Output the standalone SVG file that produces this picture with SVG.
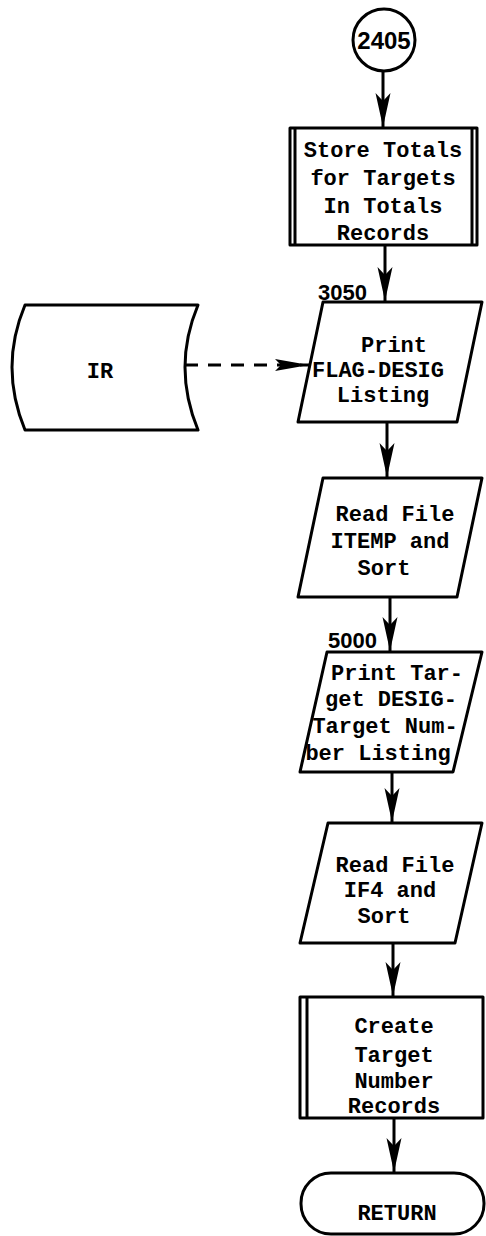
<svg xmlns="http://www.w3.org/2000/svg" width="486" height="1236" viewBox="0 0 486 1236">
<style>
.s{fill:#fff;stroke:#000;stroke-width:3;stroke-linejoin:round}
.t{font-family:"Liberation Mono","Courier New",monospace;font-weight:bold;font-size:22px;text-anchor:middle;fill:#000}
.n{font-family:"Liberation Sans",Arial,sans-serif;font-weight:bold;font-size:22px;fill:#000}
.c{fill:none;stroke:#000;stroke-width:3}
.d{fill:none;stroke:#000;stroke-width:3;stroke-dasharray:13 10}
</style>
<defs>
<marker id="ah" markerUnits="userSpaceOnUse" viewBox="0 -8 36 16" markerWidth="36" markerHeight="16" refX="34" refY="0" orient="auto">
<path d="M0,-7.5 L34,0 L0,7.5 L8,0 Z" fill="#000"/>
</marker>
<marker id="ah2" markerUnits="userSpaceOnUse" viewBox="0 -8 36 16" markerWidth="36" markerHeight="16" refX="34" refY="0" orient="auto">
<path d="M0,-6 L34,0 L0,6 L6,0 Z" fill="#000"/>
</marker>
</defs>
<g id="connectors">
<line class="c" x1="383" y1="71" x2="383" y2="127" marker-end="url(#ah)"/>
<line class="c" x1="385" y1="245" x2="385" y2="301" marker-end="url(#ah)"/>
<line class="c" x1="387" y1="422" x2="387" y2="477" marker-end="url(#ah)"/>
<line class="c" x1="390" y1="597" x2="390" y2="651" marker-end="url(#ah)"/>
<line class="c" x1="392" y1="772" x2="392" y2="822" marker-end="url(#ah)"/>
<line class="c" x1="393" y1="943" x2="393" y2="996" marker-end="url(#ah)"/>
<line class="c" x1="394" y1="1118" x2="394" y2="1172" marker-end="url(#ah)"/>
<line class="d" x1="185" y1="365" x2="309" y2="365" marker-end="url(#ah2)"/>
</g>
<g id="n2405">
<circle class="s" cx="384" cy="40" r="31" stroke-width="3.5"/>
<text class="n" x="384" y="49" text-anchor="middle" style="font-size:24px">2405</text>
</g>
<g id="store">
<rect class="s" x="290" y="128" width="187" height="117"/>
<line class="c" x1="295" y1="128" x2="295" y2="245" stroke-width="2"/>
<line class="c" x1="472" y1="128" x2="472" y2="245" stroke-width="2"/>
<text class="t" x="383" y="157">Store Totals</text>
<text class="t" x="383" y="185">for Targets</text>
<text class="t" x="383" y="213">In Totals</text>
<text class="t" x="383" y="240">Records</text>
</g>
<g id="ir">
<path class="s" d="M25,305 L198,305 Q172,367 198,430 L25,430 Q-1,367 25,305 Z"/>
<text class="t" x="100" y="378">IR</text>
</g>
<g id="print1">
<text class="n" x="318" y="300">3050</text>
<path class="s" d="M323,302 L482,302 L457,422 L298,422 Z"/>
<text class="t" x="394" y="352">Print</text>
<text class="t" x="312" y="377" style="text-anchor:start">FLAG-DESIG</text>
<text class="t" x="383" y="402">Listing</text>
</g>
<g id="read1">
<path class="s" d="M323,478 L482,478 L457,597 L298,597 Z"/>
<text class="t" x="395" y="521">Read File</text>
<text class="t" x="390" y="548">ITEMP and</text>
<text class="t" x="384" y="575">Sort</text>
</g>
<g id="print2">
<text class="n" x="328" y="648">5000</text>
<path class="s" d="M327,652 L482,652 L453,772 L300,772 Z"/>
<text class="t" x="397" y="680">Print Tar-</text>
<text class="t" x="391" y="706">get DESIG-</text>
<text class="t" x="385" y="733">Target Num-</text>
<text class="t" x="378" y="760">ber Listing</text>
</g>
<g id="read2">
<path class="s" d="M328,823 L482,823 L455,943 L300,943 Z"/>
<text class="t" x="395" y="872">Read File</text>
<text class="t" x="390" y="897">IF4 and</text>
<text class="t" x="384" y="923">Sort</text>
</g>
<g id="create">
<rect class="s" x="300" y="997" width="183" height="121"/>
<line class="c" x1="307" y1="997" x2="307" y2="1118" stroke-width="2"/>
<text class="t" x="394" y="1033">Create</text>
<text class="t" x="394" y="1062">Target</text>
<text class="t" x="394" y="1088">Number</text>
<text class="t" x="394" y="1113">Records</text>
</g>
<g id="return">
<rect class="s" x="301" y="1173" width="183" height="61" rx="30" ry="30"/>
<text class="t" x="397" y="1220">RETURN</text>
</g>
</svg>
